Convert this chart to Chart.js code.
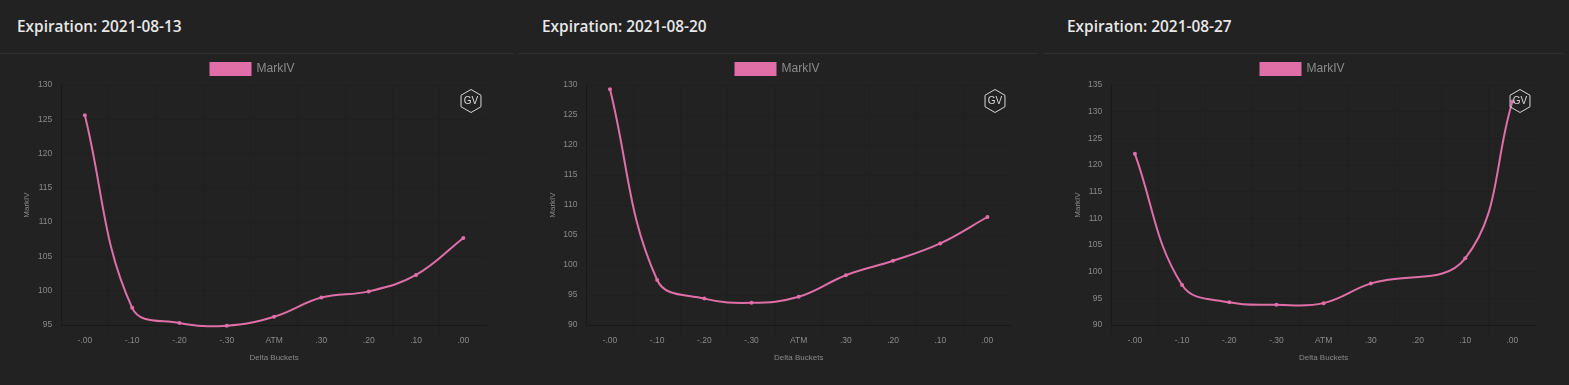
<!DOCTYPE html>
<html>
<head>
<meta charset="utf-8">
<title>MarkIV by expiration</title>
<script src="https://cdn.jsdelivr.net/npm/chart.js@4"></script>
<style>
  html, body { margin: 0; padding: 0; background: #222222; }
  body { position: relative; width: 1569px; height: 385px; overflow: hidden; }
  .title { position: absolute; top: 15px; margin: 0; color: #e8e8e8; font: 600 15.4px "Open Sans", sans-serif; line-height: 24px; white-space: nowrap; }
  .rule { position: absolute; top: 53px; height: 1px; background: #2f2f2f; }
  canvas { position: absolute; top: 52px; }
</style>
</head>
<body>
<h2 class="title" style="left:17px">Expiration: 2021-08-13</h2>
<h2 class="title" style="left:542px">Expiration: 2021-08-20</h2>
<h2 class="title" style="left:1067px">Expiration: 2021-08-27</h2>
<div class="rule" style="left:0;width:513px"></div>
<div class="rule" style="left:518px;width:520px"></div>
<div class="rule" style="left:1043px;width:520px"></div>
<canvas id="chart1" width="469" height="315" style="left:18px"></canvas>
<canvas id="chart2" width="467" height="315" style="left:544px"></canvas>
<canvas id="chart3" width="467" height="315" style="left:1069px"></canvas>
<script>
const categories = ["-.00", "-.10", "-.20", "-.30", "ATM", ".30", ".20", ".10", ".00"];
const markIv0813 = [125.6, 97.5, 95.3, 94.9, 96.2, 99.0, 99.9, 102.3, 107.7];
const markIv0820 = [129.3, 97.5, 94.4, 93.7, 94.7, 98.3, 100.7, 103.6, 108.0];
// no marker at .20 on this one, the line just runs across it
const markIv0827 = [122.1, 97.5, 94.25, 93.8, 94.1, 97.8, null, 102.5, 131.9];

// hexagon logo in the top right of the plot
const gvLogo = {
  id: "gvLogo",
  afterDraw(chart) {
    const ctx = chart.ctx;
    const cx = chart.chartArea.right - 16;
    const cy = chart.chartArea.top + 16;
    const r = 11.5;
    ctx.save();
    ctx.strokeStyle = "#d8d8d8";
    ctx.lineWidth = 1;
    ctx.beginPath();
    for (let i = 0; i < 6; i++) {
      const a = Math.PI / 2 + i * Math.PI / 3;
      const x = cx + r * Math.cos(a);
      const y = cy - r * Math.sin(a);
      if (i === 0) ctx.moveTo(x, y);
      else ctx.lineTo(x, y);
    }
    ctx.closePath();
    ctx.stroke();
    ctx.fillStyle = "#d8d8d8";
    ctx.font = "10px 'Liberation Sans', Arial, sans-serif";
    ctx.textAlign = "center";
    ctx.textBaseline = "middle";
    ctx.fillText("GV", cx, cy + 0.5);
    ctx.restore();
  }
};

function drawChart(id, values, yMax, yMin, yWidth) {
  return new Chart(document.getElementById(id).getContext("2d"), {
    type: "line",
    data: {
      labels: categories,
      datasets: [{
        label: "MarkIV",
        data: values,
        borderColor: "#e06fa8",
        backgroundColor: "#e06fa8",
        borderWidth: 2,
        pointRadius: 2,
        pointBorderWidth: 0,
        tension: 0.4,
        fill: false,
        clip: false,
        spanGaps: true
      }]
    },
    options: {
      responsive: false,
      animation: false,
      devicePixelRatio: 1,
      layout: { autoPadding: false },
      plugins: {
        legend: {
          labels: {
            color: "#8c8c8c",
            boxWidth: 40,
            padding: 11,
            font: { family: "'Liberation Sans', Arial, sans-serif", size: 12 }
          }
        },
        tooltip: { enabled: false }
      },
      scales: {
        x: {
          offset: true,
          grid: { offset: true, color: "#1f1f1f", tickLength: 10 },
          border: { color: "#181818" },
          ticks: { color: "#8a8a8a", padding: 1, maxRotation: 0, font: { family: "'Liberation Sans', Arial, sans-serif", size: 8.5 } },
          title: { display: true, text: "Delta Buckets", color: "#8a8a8a", font: { family: "'Liberation Sans', Arial, sans-serif", size: 8 } },
          afterFit(scale) {
            scale.height = 42;
            scale.paddingLeft = 0;
            scale.paddingRight = 0;
          }
        },
        y: {
          min: yMin,
          max: yMax,
          grid: { color: "#1f1f1f", tickLength: 0 },
          border: { color: "#181818" },
          ticks: { stepSize: 5, color: "#8a8a8a", padding: 9, font: { family: "'Liberation Sans', Arial, sans-serif", size: 8.5 } },
          title: { display: true, text: "MarkIV", color: "#8a8a8a", font: { family: "'Liberation Sans', Arial, sans-serif", size: 8 } },
          afterFit(scale) { scale.width = yWidth; }
        }
      }
    },
    plugins: [gvLogo]
  });
}

drawChart("chart1", markIv0813, 130, 95, 43.2);
drawChart("chart2", markIv0820, 130, 90, 42.4);
drawChart("chart3", markIv0827, 135, 90, 42.3);
</script>
</body>
</html>
